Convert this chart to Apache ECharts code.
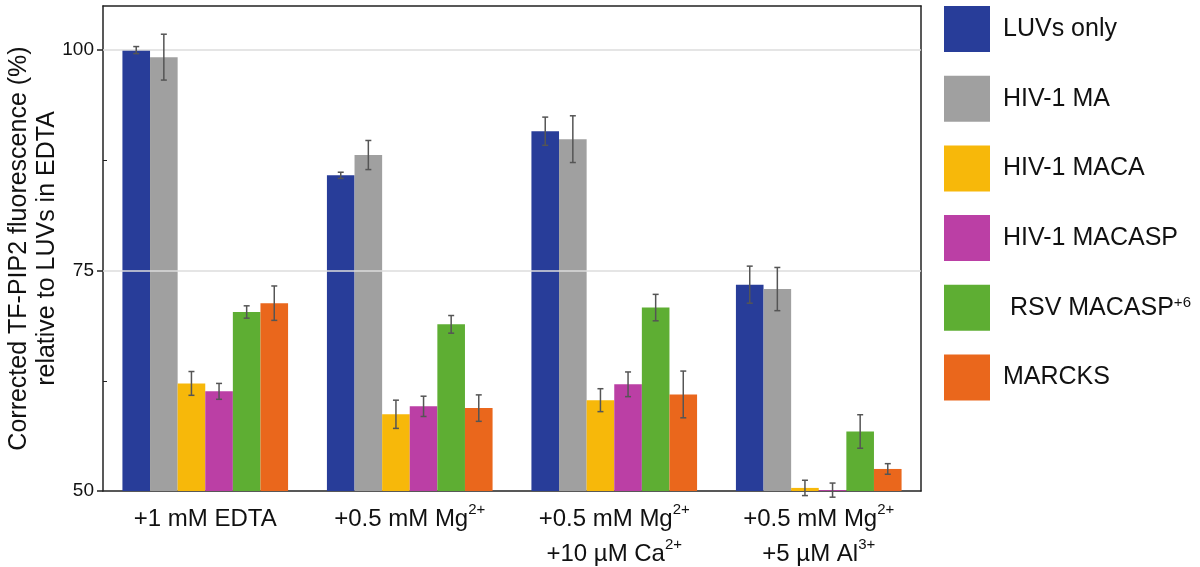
<!DOCTYPE html>
<html><head><meta charset="utf-8">
<script src="https://cdn.jsdelivr.net/npm/echarts@6/dist/echarts.min.js"></script>
<style>html,body{margin:0;padding:0;background:#fff}#c{width:1200px;height:567px}</style>
</head><body><div id="c"></div>
<script>
// ---- data ----
const categories = ['+1 mM EDTA', '+0.5 mM Mg{s|2+}', '+0.5 mM Mg{s|2+}\n+10 µM Ca{s|2+}', '+0.5 mM Mg{s|2+}\n+5 µM Al{s|3+}'];
const seriesNames = ['LUVs only', 'HIV-1 MA', 'HIV-1 MACA', 'HIV-1 MACASP', 'RSV MACASP+6', 'MARCKS'];
const legendLabels = ['LUVs only', 'HIV-1 MA', 'HIV-1 MACA', 'HIV-1 MACASP', ' RSV MACASP{s|+6}', 'MARCKS'];
const luvsOnly      = [100.0, 85.8, 90.8, 73.4];
const luvsOnlyErr   = [0.4, 0.35, 1.6, 2.1];
const hivMA         = [99.2, 88.1, 89.9, 72.9];
const hivMAErr      = [2.6, 1.65, 2.65, 2.45];
const hivMACA       = [62.2, 58.7, 60.3, 50.35];
const hivMACAErr    = [1.35, 1.6, 1.3, 0.87];
const hivMACASP     = [61.3, 59.6, 62.1, 50.1];
const hivMACASPErr  = [0.9, 1.15, 1.4, 0.8];
const rsvMACASP     = [70.3, 68.9, 70.8, 56.75];
const rsvMACASPErr  = [0.7, 1.0, 1.5, 1.9];
const marcks        = [71.3, 59.4, 60.95, 52.5];
const marcksErr     = [1.95, 1.5, 2.65, 0.6];
const yTicks = [50, 75, 100];
const yMinorTicks = [62.5, 87.5];

const values = [luvsOnly, hivMA, hivMACA, hivMACASP, rsvMACASP, marcks];
const errors = [luvsOnlyErr, hivMAErr, hivMACAErr, hivMACASPErr, rsvMACASPErr, marcksErr];
const colors = ['#283d99', '#a0a0a0', '#f7b80a', '#bb3fa5', '#5eae33', '#ea671c'];

const FONT = '"Liberation Sans", Arial, Helvetica, sans-serif';
const CAT_GAP = 0.19;
const N = seriesNames.length;

const chart = echarts.init(document.getElementById('c'), null, {renderer: 'canvas'});

const series = [];
// gridlines behind bars
series.push({
  type: 'line', data: [], z: 1, silent: true,
  markLine: {
    silent: true, symbol: ['none', 'none'], label: {show: false},
    lineStyle: {color: '#dcdcdc', width: 1.5, type: 'solid'},
    data: [{yAxis: 75}, {yAxis: 100}]
  }
});
values.forEach((v, i) => {
  series.push({
    name: seriesNames[i], type: 'bar', data: v, z: 2,
    barGap: '0%', barCategoryGap: (CAT_GAP * 100) + '%',
    itemStyle: {color: colors[i]},
    emphasis: {disabled: true}
  });
});
values.forEach((v, i) => {
  series.push({
    type: 'custom', z: 5, silent: true, clip: false,
    data: v.map((val, ci) => [ci, val, errors[i][ci]]),
    encode: {x: 0, y: 1},
    renderItem: function (params, api) {
      const ci = api.value(0), val = api.value(1), e = api.value(2);
      const c = api.coord([ci, val]);
      const band = api.size([1, 0])[0];
      const bw = band * (1 - CAT_GAP) / N;
      const x = c[0] + (i - (N - 1) / 2) * bw;
      const yt = api.coord([ci, val + e])[1];
      const yb = api.coord([ci, val - e])[1];
      const cw = 3;
      const st = {stroke: '#555', lineWidth: 1.5};
      return {type: 'group', children: [
        {type: 'line', shape: {x1: x, y1: yt, x2: x, y2: yb}, style: st},
        {type: 'line', shape: {x1: x - cw, y1: yt, x2: x + cw, y2: yt}, style: st},
        {type: 'line', shape: {x1: x - cw, y1: yb, x2: x + cw, y2: yb}, style: st}
      ]};
    }
  });
});

const option = {
  animation: false,
  backgroundColor: '#fff',
  textStyle: {fontFamily: FONT},
  grid: {left: 103, right: 279, top: 6, bottom: 76, containLabel: false, outerBoundsMode: 'none'},
  legend: {
    orient: 'vertical', left: 944, top: 6, padding: 0,
    itemWidth: 46, itemHeight: 46, itemGap: 23.7,
    icon: 'rect', selectedMode: false,
    data: seriesNames,
    formatter: name => legendLabels[seriesNames.indexOf(name)],
    textStyle: {
      fontFamily: FONT, fontSize: 25, color: '#111', padding: [0, 0, 0, 8],
      rich: {s: {fontFamily: FONT, fontSize: 15, verticalAlign: 'top', lineHeight: 24, color: '#111'}}
    }
  },
  xAxis: [{
    type: 'category', data: categories,
    axisLine: {show: true, lineStyle: {color: '#222', width: 1.5}},
    axisTick: {show: false},
    axisLabel: {
      fontFamily: FONT, fontSize: 24, color: '#111', margin: 11, lineHeight: 35, interval: 0,
      rich: {s: {fontFamily: FONT, fontSize: 15, verticalAlign: 'top', lineHeight: 27, color: '#111'}}
    },
    splitLine: {show: false}
  }, {
    type: 'category', data: categories, position: 'top',
    axisLine: {show: true, lineStyle: {color: '#222', width: 1.5}},
    axisTick: {show: false}, axisLabel: {show: false}, splitLine: {show: false}
  }],
  yAxis: [{
    type: 'value', min: 50, max: 105, interval: 25,
    name: 'Corrected TF-PIP2 fluorescence (%)\nrelative to LUVs in EDTA',
    nameLocation: 'middle', nameRotate: 90, nameGap: 42, nameMoveOverlap: false,
    nameTextStyle: {fontFamily: FONT, fontSize: 25, color: '#111', lineHeight: 28, align: 'center'},
    axisLine: {show: true, lineStyle: {color: '#222', width: 1.5}},
    axisTick: {show: true, length: 6, customValues: yTicks, lineStyle: {color: '#222', width: 1.5}},
    axisLabel: {fontFamily: FONT, fontSize: 19, color: '#111', margin: 9, customValues: yTicks},
    splitLine: {show: false}
  }, {
    type: 'value', min: 50, max: 105, position: 'left',
    axisLine: {show: false},
    axisTick: {show: true, inside: true, length: 4, customValues: yMinorTicks, lineStyle: {color: '#222', width: 1}},
    axisLabel: {show: false}, splitLine: {show: false}
  }, {
    type: 'value', min: 50, max: 105, position: 'right',
    axisLine: {show: true, lineStyle: {color: '#222', width: 1.5}},
    axisTick: {show: false}, axisLabel: {show: false}, splitLine: {show: false}
  }],
  series: series
};
chart.setOption(option);
</script>
</body></html>
